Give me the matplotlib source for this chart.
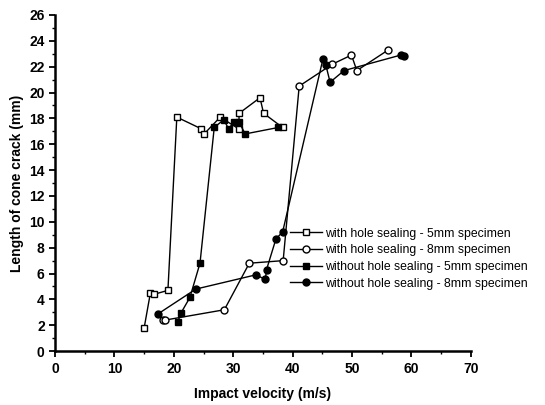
import numpy as np
from matplotlib import pyplot as plt
from matplotlib.ticker import MultipleLocator

plt.rcParams['font.family'] = ['Liberation Sans', 'DejaVu Sans']

# with hole sealing - 5mm specimen
v_ws5 = [15.0, 16.05, 16.7, 19.0, 20.5, 24.6, 25.1, 27.8, 30.9, 31.0, 34.5, 35.1, 38.3]
c_ws5 = [1.8, 4.5, 4.4, 4.7, 18.1, 17.2, 16.8, 18.1, 17.2, 18.4, 19.6, 18.4, 17.3]

# with hole sealing - 8mm specimen
v_ws8 = [18.1, 18.5, 28.5, 32.7, 38.4, 41.1, 46.7, 49.9, 50.8, 56.1]
c_ws8 = [2.4, 2.4, 3.2, 6.8, 7.0, 20.5, 22.2, 22.9, 21.7, 23.3]

# without hole sealing - 5mm specimen
v_wo5 = [20.65, 21.2, 22.7, 24.4, 26.8, 28.4, 29.2, 30.1, 31.0, 32.0, 37.6]
c_wo5 = [2.25, 2.95, 4.15, 6.8, 17.3, 17.9, 17.2, 17.7, 17.7, 16.8, 17.3]

# without hole sealing - 8mm specimen
v_wo8 = [17.4, 23.7, 33.8, 35.4, 35.6, 37.2, 38.3, 45.1, 45.6, 46.3, 48.65, 58.2, 58.75]
c_wo8 = [2.9, 4.8, 5.9, 5.55, 6.3, 8.7, 9.2, 22.6, 22.1, 20.8, 21.7, 22.9, 22.8]

labels = ["with hole sealing - 5mm specimen",
          "with hole sealing - 8mm specimen",
          "without hole sealing - 5mm specimen",
          "without hole sealing - 8mm specimen"]

fig = plt.figure(figsize=(5.45, 4.05), dpi=100)
ax = fig.add_axes([0.101, 0.133, 0.763, 0.830])

ax.plot(v_ws5, c_ws5, '-s', color='black', mfc='white', mec='black', ms=4.5, lw=1, mew=1, label=labels[0])
ax.plot(v_ws8, c_ws8, '-o', color='black', mfc='white', mec='black', ms=5, lw=1, mew=1, label=labels[1])
ax.plot(v_wo5, c_wo5, '-s', color='black', mfc='black', mec='black', ms=4.5, lw=1, label=labels[2])
ax.plot(v_wo8, c_wo8, '-o', color='black', mfc='black', mec='black', ms=5, lw=1, label=labels[3])

ax.set_xlim(0, 70)
ax.set_ylim(0, 26)
ax.xaxis.set_major_locator(MultipleLocator(10))
ax.xaxis.set_minor_locator(MultipleLocator(5))
ax.yaxis.set_major_locator(MultipleLocator(2))
ax.yaxis.set_minor_locator(MultipleLocator(1))

ax.spines['top'].set_visible(False)
ax.spines['right'].set_visible(False)
ax.spines['left'].set_linewidth(1.8)
ax.spines['bottom'].set_linewidth(1.8)
ax.tick_params(which='major', direction='out', length=4, width=1.3, labelsize=10)
ax.tick_params(which='minor', direction='out', length=2, width=1)
for t in ax.get_xticklabels() + ax.get_yticklabels():
    t.set_fontweight('bold')

ax.set_xlabel("Impact velocity (m/s)", fontsize=10, fontweight='bold', labelpad=8)
ax.set_ylabel("Length of cone crack (mm)", fontsize=10, fontweight='bold', labelpad=4)

ax.legend(loc='upper left', bbox_to_anchor=(0.565, 0.367), frameon=False, fontsize=8.8,
          handlelength=2.6, handletextpad=0.3, labelspacing=0.38, borderaxespad=0,
          borderpad=0)

fig.savefig("out.png", dpi=100)
